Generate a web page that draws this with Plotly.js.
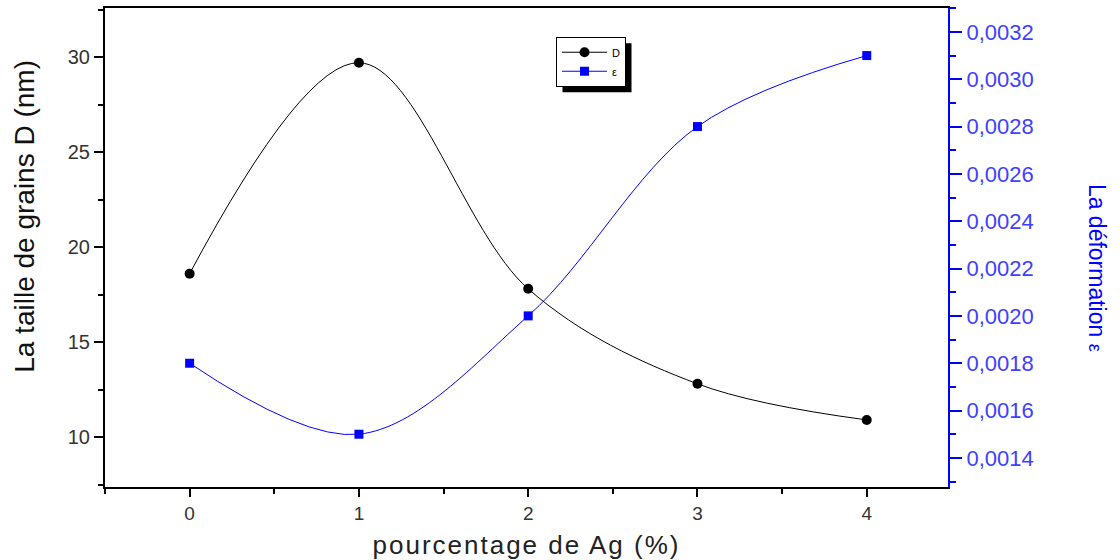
<!DOCTYPE html>
<html><head><meta charset="utf-8">
<script src="https://cdn.plot.ly/plotly-3.0.1.min.js"></script>
<style>html,body{margin:0;padding:0;background:#fff}#chart{width:1120px;height:560px}
.xtitle{letter-spacing:2px}</style>
</head><body><div id="chart"></div>
<script>
const agPercent = [0, 1, 2, 3, 4];
const grainSize = [18.6, 29.7, 17.8, 12.8, 10.9];
const strain = [0.0018, 0.0015, 0.0020, 0.0028, 0.0031];

const traces = [
  {x: agPercent, y: grainSize, name: 'D', type: 'scatter', mode: 'lines+markers',
   line: {shape: 'spline', smoothing: 1, color: '#000', width: 1},
   marker: {symbol: 'circle', size: 10, color: '#000'}, yaxis: 'y'},
  {x: agPercent, y: strain, name: 'ε', type: 'scatter', mode: 'lines+markers',
   line: {shape: 'spline', smoothing: 1, color: '#0000ff', width: 1},
   marker: {symbol: 'square', size: 9, color: '#0000ff'}, yaxis: 'y2'}
];

const font = 'Liberation Sans, Arial, sans-serif';
const M = {l: 105, r: 172, t: 8, b: 73};
const layout = {
  width: 1120, height: 560,
  margin: M,
  paper_bgcolor: '#fff', plot_bgcolor: 'rgba(0,0,0,0)',
  separators: ', ',
  showlegend: true,
  font: {family: font, size: 16, color: '#222'},
  xaxis: {range: [-0.5, 4.48], dtick: 1, tick0: 0, showgrid: false, zeroline: false,
    showline: true, linecolor: '#000', linewidth: 2, mirror: true,
    ticks: 'outside', ticklen: 8, tickwidth: 2, tickcolor: '#000',
    minor: {dtick: 0.5, ticks: 'outside', ticklen: 5, tickwidth: 2, tickcolor: '#000'},
    tickfont: {family: font, size: 19, color: '#333'},
    title: {text: 'pourcentage de Ag (%)', font: {family: font, size: 26, color: '#222'}, standoff: 14}},
  yaxis: {range: [7.37, 32.58], dtick: 5, tick0: 0, showgrid: false, zeroline: false,
    showline: true, linecolor: '#000', linewidth: 2,
    ticks: 'outside', ticklen: 9, tickwidth: 2, tickcolor: '#000',
    minor: {dtick: 2.5, ticks: 'outside', ticklen: 5, tickwidth: 2, tickcolor: '#000'},
    tickfont: {family: font, size: 20, color: '#333'}},
  yaxis2: {overlaying: 'y', side: 'right', range: [0.001277, 0.003301], dtick: 0.0002, tick0: 0,
    tickformat: '.4f', showgrid: false, zeroline: false,
    showline: true, linecolor: '#0000ff', linewidth: 2,
    ticks: 'outside', ticklen: 12, tickwidth: 2, tickcolor: '#0000ff',
    minor: {dtick: 0.0001, ticks: 'outside', ticklen: 6, tickwidth: 2, tickcolor: '#0000ff'},
    tickfont: {family: font, size: 22, color: '#4040ff'}},
  legend: {x: 0.535, y: 0.94, xanchor: 'left', yanchor: 'top',
    bgcolor: '#fff', bordercolor: '#000', borderwidth: 1,
    font: {family: font, size: 11, color: '#000'}, tracegroupgap: 0, itemwidth: 45},
  shapes: [],
  annotations: [
    {text: 'La taille de grains D (nm)', xref: 'paper', yref: 'paper', x: -0.095, y: 0.566,
     xanchor: 'center', yanchor: 'middle',
     showarrow: false, textangle: -90, font: {family: font, size: 28, color: '#111'}},
    {text: 'La déformation <span style="font-size:18px">ε</span>', xref: 'paper', yref: 'paper', x: 1.177, y: 0.457,
     xanchor: 'center', yanchor: 'middle',
     showarrow: false, textangle: 90, font: {family: font, size: 23, color: '#0000ff'}}
  ]
};
Plotly.newPlot('chart', traces, layout, {staticPlot: true}).then(function (gd) {
  const bg = gd.querySelector('.legend rect.bg');
  if (!bg) return;
  const r = bg.getBoundingClientRect();
  const c = gd.getBoundingClientRect();
  const pw = 1120 - M.l - M.r, ph = 560 - M.t - M.b;
  const off = 6;
  const px = function (x) { return (x - c.left - M.l) / pw; };
  const py = function (y) { return (560 - M.b - (y - c.top)) / ph; };
  return Plotly.relayout(gd, {shapes: [{type: 'rect', xref: 'paper', yref: 'paper',
    x0: px(r.left + off), x1: px(r.right + off), y0: py(r.bottom + off), y1: py(r.top + off),
    fillcolor: '#000', line: {width: 0}, layer: 'above'}]});
});
</script></body></html>
